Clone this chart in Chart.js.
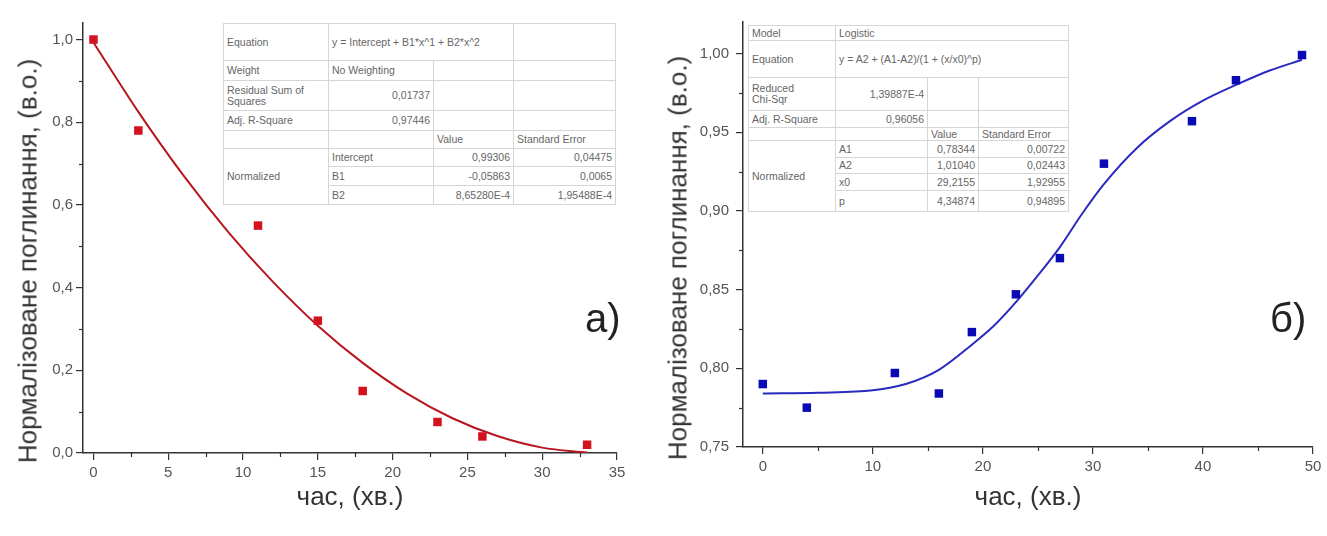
<!DOCTYPE html>
<html lang="uk">
<head>
<meta charset="UTF-8">
<title>Нормалізоване поглинання</title>
<script src="https://cdn.jsdelivr.net/npm/chart.js"></script>
<style>
    body { margin: 0; background: #fff; font-family: "Liberation Sans", Arial, sans-serif; }
    #wrap { position: relative; width: 1327px; height: 536px; overflow: hidden; }
    #chartA { position: absolute; left: 0; top: 0; }
    #chartB { position: absolute; left: 640px; top: 0; }
    .ytitle {
        position: absolute; font-size: 26px; color: #333; white-space: nowrap;
        transform: translate(-50%, -50%) rotate(-90deg);
    }
    .panel { position: absolute; font-size: 40px; line-height: 40px; color: #222; }
    table.fit {
        position: absolute; border-collapse: collapse; table-layout: fixed;
        font-size: 10.5px; color: #666; background: #fff; border: 1px solid #999;
    }
    table.fit td {
        border: 1px solid #d6d6d6; padding: 0 3px; line-height: 11px;
        vertical-align: middle; overflow: hidden; white-space: nowrap;
    }
    table.fit td.r { text-align: right; }
</style>
</head>
<body>
<div id="wrap">
    <canvas id="chartA" width="640" height="536"></canvas>
    <canvas id="chartB" width="687" height="536"></canvas>

    <div class="ytitle" style="left:28px; top:261px;">Нормалізоване поглинання, (в.о.)</div>
    <div class="ytitle" style="left:678px; top:258px;">Нормалізоване поглинання, (в.о.)</div>

    <div class="panel" style="left:585px; top:298px;">а)</div>
    <div class="panel" style="left:1270px; top:298px;">б)</div>

    <!-- таблиця підгонки а) -->
    <table class="fit" style="left:223px; top:23px; width:392px; height:181px;">
        <colgroup><col style="width:105px"><col style="width:105px"><col style="width:80px"><col style="width:102px"></colgroup>
        <tr style="height:37px"><td>Equation</td><td colspan="2">y = Intercept + B1*x^1 + B2*x^2</td><td></td></tr>
        <tr style="height:20px"><td>Weight</td><td>No Weighting</td><td></td><td></td></tr>
        <tr style="height:30px"><td>Residual Sum of<br>Squares</td><td class="r">0,01737</td><td></td><td></td></tr>
        <tr style="height:20px"><td>Adj. R-Square</td><td class="r">0,97446</td><td></td><td></td></tr>
        <tr style="height:18px"><td></td><td></td><td>Value</td><td>Standard Error</td></tr>
        <tr style="height:18px"><td rowspan="3">Normalized</td><td>Intercept</td><td class="r">0,99306</td><td class="r">0,04475</td></tr>
        <tr style="height:19px"><td>B1</td><td class="r">-0,05863</td><td class="r">0,0065</td></tr>
        <tr style="height:19px"><td>B2</td><td class="r">8,65280E-4</td><td class="r">1,95488E-4</td></tr>
    </table>

    <!-- таблиця підгонки б) -->
    <table class="fit" style="left:748px; top:25px; width:320px; height:186px;">
        <colgroup><col style="width:87px"><col style="width:92px"><col style="width:51px"><col style="width:90px"></colgroup>
        <tr style="height:15px"><td>Model</td><td colspan="3">Logistic</td></tr>
        <tr style="height:37px"><td>Equation</td><td colspan="3">y = A2 + (A1-A2)/(1 + (x/x0)^p)</td></tr>
        <tr style="height:33px"><td>Reduced<br>Chi-Sqr</td><td class="r">1,39887E-4</td><td></td><td></td></tr>
        <tr style="height:17px"><td>Adj. R-Square</td><td class="r">0,96056</td><td></td><td></td></tr>
        <tr style="height:13px"><td></td><td></td><td>Value</td><td>Standard Error</td></tr>
        <tr style="height:17px"><td rowspan="4">Normalized</td><td>A1</td><td class="r">0,78344</td><td class="r">0,00722</td></tr>
        <tr style="height:16px"><td>A2</td><td class="r">1,01040</td><td class="r">0,02443</td></tr>
        <tr style="height:17px"><td>x0</td><td class="r">29,2155</td><td class="r">1,92955</td></tr>
        <tr style="height:21px"><td>p</td><td class="r">4,34874</td><td class="r">0,94895</td></tr>
    </table>
</div>

<script>
    // а) експериментальні точки та апроксимація (поліном 2-го порядку)
    const timeA = [0, 3, 11, 15, 18, 23, 26, 33];
    const valueA = [1.0, 0.78, 0.55, 0.32, 0.15, 0.075, 0.04, 0.02];
    const fitTimeA = [0, 3, 6, 9, 12, 15, 18, 21, 24, 27, 30, 33];
    const fitValueA = [0.993, 0.825, 0.672, 0.535, 0.414, 0.308, 0.218, 0.143, 0.084, 0.041, 0.013, 0.001];
    const xTicksA = [0, 5, 10, 15, 20, 25, 30, 35];
    const xMinorA = [2.5, 7.5, 12.5, 17.5, 22.5, 27.5, 32.5];
    const yTicksA = [0, 0.2, 0.4, 0.6, 0.8, 1.0];
    const yMinorA = [0.1, 0.3, 0.5, 0.7, 0.9];

    // б) експериментальні точки та логістична апроксимація
    const timeB = [0, 4, 12, 16, 19, 23, 27, 31, 39, 43, 49];
    const valueB = [0.790, 0.775, 0.797, 0.784, 0.823, 0.847, 0.870, 0.930, 0.957, 0.983, 0.999];
    const fitTimeB = [0, 5, 10, 13, 16, 19, 21, 23, 25, 27, 29, 31, 34, 37, 40, 43, 46, 49];
    const fitValueB = [0.784, 0.7845, 0.786, 0.790, 0.799, 0.815, 0.827, 0.842, 0.859, 0.877, 0.898, 0.917, 0.940, 0.957, 0.970, 0.980, 0.989, 0.996];
    const xTicksB = [0, 10, 20, 30, 40, 50];
    const xMinorB = [5, 15, 25, 35, 45];
    const yTicksB = [0.75, 0.80, 0.85, 0.90, 0.95, 1.00];
    const yMinorB = [0.775, 0.825, 0.875, 0.925, 0.975];

    const axisColor = '#333';

    // дрібні поділки осей (Chart.js їх не малює сам)
    const minorTicks = {
        id: 'minorTicks',
        afterDraw(chart, args, opts) {
            const { ctx, chartArea, scales } = chart;
            ctx.save();
            ctx.strokeStyle = axisColor;
            ctx.lineWidth = 1.2;
            opts.x.forEach(v => {
                const px = Math.round(scales.x.getPixelForValue(v)) + 0.5;
                ctx.beginPath();
                ctx.moveTo(px, chartArea.bottom);
                ctx.lineTo(px, chartArea.bottom + 4);
                ctx.stroke();
            });
            opts.y.forEach(v => {
                const py = Math.round(scales.y.getPixelForValue(v)) + 0.5;
                ctx.beginPath();
                ctx.moveTo(chartArea.left, py);
                ctx.lineTo(chartArea.left - 4, py);
                ctx.stroke();
            });
            ctx.restore();
        }
    };

    function comma(v, d) {
        return v.toFixed(d).replace('.', ',');
    }

    function makeChart(id, cfg) {
        return new Chart(document.getElementById(id), {
            type: 'scatter',
            data: {
                datasets: [
                    {
                        data: cfg.time.map((t, i) => ({ x: t, y: cfg.values[i] })),
                        pointStyle: 'rect',
                        pointRadius: 6,
                        borderWidth: 0,
                        backgroundColor: cfg.pointColor,
                        order: 0
                    },
                    {
                        data: cfg.fitTime.map((t, i) => ({ x: t, y: cfg.fitValues[i] })),
                        showLine: true,
                        pointRadius: 0,
                        borderColor: cfg.lineColor,
                        borderWidth: 2,
                        cubicInterpolationMode: 'monotone',
                        order: 1
                    }
                ]
            },
            options: {
                responsive: false,
                animation: false,
                layout: { padding: { top: cfg.top, right: cfg.right, left: 0, bottom: 0 } },
                plugins: {
                    legend: { display: false },
                    tooltip: { enabled: false },
                    minorTicks: { x: cfg.xMinor, y: cfg.yMinor }
                },
                scales: {
                    x: {
                        type: 'linear',
                        min: cfg.xMin,
                        max: cfg.xMax,
                        afterBuildTicks: s => { s.ticks = cfg.xTicks.map(v => ({ value: v })); },
                        afterFit: s => { s.height = cfg.xHeight; },
                        ticks: {
                            autoSkip: false, maxRotation: 0, padding: 4,
                            color: '#555', font: { size: 15 },
                            callback: v => String(v)
                        },
                        grid: { drawOnChartArea: false, tickLength: 7, color: axisColor, lineWidth: 1.2 },
                        border: { color: axisColor, width: 1.5 },
                        title: {
                            display: true, text: 'час, (хв.)', color: '#333',
                            font: { size: 26 }, padding: { top: 0, bottom: 23 }
                        }
                    },
                    y: {
                        min: cfg.yMin,
                        max: cfg.yMax,
                        afterBuildTicks: s => { s.ticks = cfg.yTicks.map(v => ({ value: v })); },
                        afterFit: s => { s.width = cfg.yWidth; },
                        ticks: {
                            padding: cfg.yPad, color: '#555', font: { size: 15 },
                            callback: v => comma(v, cfg.yDigits)
                        },
                        grid: { drawOnChartArea: false, tickLength: 7, color: axisColor, lineWidth: 1.2 },
                        border: { color: axisColor, width: 1.5 }
                    }
                }
            },
            plugins: [minorTicks]
        });
    }

    const chartA = makeChart('chartA', {
        time: timeA, values: valueA, fitTime: fitTimeA, fitValues: fitValueA,
        pointColor: '#d3121f', lineColor: '#b8161f',
        xMin: -0.7, xMax: 35, yMin: 0, yMax: 1.04,
        xTicks: xTicksA, xMinor: xMinorA, yTicks: yTicksA, yMinor: yMinorA, yDigits: 1,
        top: 23, right: 23, xHeight: 83, yWidth: 83, yPad: 3
    });

    const chartB = makeChart('chartB', {
        time: timeB, values: valueB, fitTime: fitTimeB, fitValues: fitValueB,
        pointColor: '#0a0ab4', lineColor: '#2a2ac0',
        xMin: -1.8, xMax: 50, yMin: 0.75, yMax: 1.02,
        xTicks: xTicksB, xMinor: xMinorB, yTicks: yTicksB, yMinor: yMinorB, yDigits: 2,
        top: 22, right: 14, xHeight: 89, yWidth: 103, yPad: 7
    });
</script>
</body>
</html>
